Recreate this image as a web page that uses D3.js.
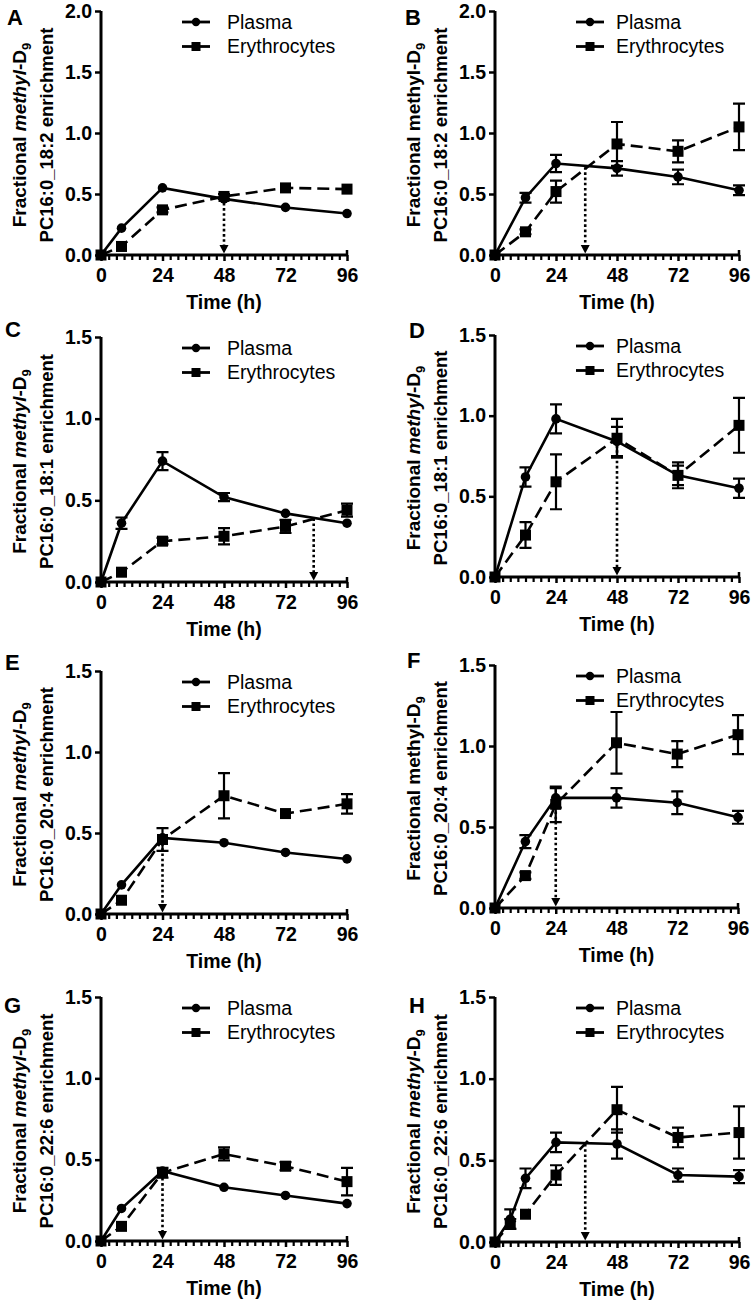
<!DOCTYPE html>
<html>
<head>
<meta charset="utf-8">
<script src="https://cdn.jsdelivr.net/npm/d3@7"></script>
<style>
  html, body { margin: 0; padding: 0; background: #fff; }
  svg { display: block; }
  text { font-family: "Liberation Sans", Arial, sans-serif; fill: #000; }
</style>
</head>
<body>
<svg id="chart" width="755" height="1310"></svg>
<script>
// ---------------- DATA ----------------
const panelLetters = ["A", "B", "C", "D", "E", "F", "G", "H"];
const lipidLabels = ["PC16:0_18:2", "PC16:0_18:2", "PC16:0_18:1", "PC16:0_18:1",
                     "PC16:0_20:4", "PC16:0_20:4", "PC16:0_22:6", "PC16:0_22:6"];
const italicMethyl = [true, false, true, true, true, false, true, true];
const yMaxValues = [2.0, 2.0, 1.5, 1.5, 1.5, 1.5, 1.5, 1.5];
const xTickValues = [0, 24, 48, 72, 96];
const seriesNames = ["Plasma", "Erythrocytes"];

// Panel A
const timesA = [0, 8, 24, 48, 72, 96];
const plasmaA = [0, 0.22, 0.55, 0.46, 0.39, 0.34];
const plasmaErrA = [0, 0.01, 0.01, 0.01, 0.01, 0.01];
const eryA = [0, 0.07, 0.37, 0.48, 0.55, 0.54];
const eryErrA = [0, 0.01, 0.02, 0.02, 0.01, 0.01];
// Panel B
const timesB = [0, 12, 24, 48, 72, 96];
const plasmaB = [0, 0.47, 0.75, 0.71, 0.64, 0.53];
const plasmaErrB = [0, 0.04, 0.07, 0.06, 0.06, 0.04];
const eryB = [0, 0.19, 0.52, 0.91, 0.85, 1.05];
const eryErrB = [0, 0.02, 0.09, 0.18, 0.09, 0.19];
// Panel C
const timesC = [0, 8, 24, 48, 72, 96];
const plasmaC = [0, 0.36, 0.74, 0.52, 0.42, 0.36];
const plasmaErrC = [0, 0.035, 0.055, 0.025, 0.01, 0.01];
const eryC = [0, 0.06, 0.25, 0.28, 0.34, 0.44];
const eryErrC = [0, 0.01, 0.02, 0.05, 0.04, 0.04];
// Panel D
const timesD = [0, 12, 24, 48, 72, 96];
const plasmaD = [0, 0.62, 0.98, 0.84, 0.63, 0.55];
const plasmaErrD = [0, 0.06, 0.09, 0.09, 0.06, 0.06];
const eryD = [0, 0.26, 0.59, 0.86, 0.63, 0.94];
const eryErrD = [0, 0.08, 0.17, 0.12, 0.08, 0.17];
// Panel E
const timesE = [0, 8, 24, 48, 72, 96];
const plasmaE = [0, 0.18, 0.47, 0.44, 0.38, 0.34];
const plasmaErrE = [0, 0.01, 0.01, 0.01, 0.01, 0.01];
const eryE = [0, 0.085, 0.46, 0.73, 0.62, 0.68];
const eryErrE = [0, 0.01, 0.07, 0.14, 0.01, 0.06];
// Panel F
const timesF = [0, 12, 24, 48, 72, 96];
const plasmaF = [0, 0.41, 0.68, 0.68, 0.65, 0.56];
const plasmaErrF = [0, 0.04, 0.06, 0.06, 0.07, 0.04];
const eryF = [0, 0.2, 0.64, 1.02, 0.95, 1.07];
const eryErrF = [0, 0.02, 0.11, 0.19, 0.08, 0.12];
// Panel G
const timesG = [0, 8, 24, 48, 72, 96];
const plasmaG = [0, 0.2, 0.43, 0.33, 0.28, 0.23];
const plasmaErrG = [0, 0.01, 0.01, 0.01, 0.01, 0.01];
const eryG = [0, 0.09, 0.42, 0.535, 0.46, 0.365];
const eryErrG = [0, 0.01, 0.03, 0.04, 0.025, 0.085];
// Panel H
const timesH = [0, 6, 12, 24, 48, 72, 96];
const plasmaH = [0, 0.14, 0.39, 0.61, 0.6, 0.41, 0.4];
const plasmaErrH = [0, 0.06, 0.06, 0.06, 0.09, 0.04, 0.04];
const eryH = [0, 0.11, 0.17, 0.41, 0.81, 0.64, 0.67];
const eryErrH = [0, 0.03, 0.01, 0.06, 0.14, 0.06, 0.16];

// Crossing points marked with dotted arrows
const arrowTimes = [48, 35.5, 83, 48, 24, 24, 24, 35.5];
const arrowStarts = [0.47, 0.72, 0.39, 0.85, 0.47, 0.66, 0.42, 0.60];

const timesAll = [timesA, timesB, timesC, timesD, timesE, timesF, timesG, timesH];
const plasmaAll = [plasmaA, plasmaB, plasmaC, plasmaD, plasmaE, plasmaF, plasmaG, plasmaH];
const plasmaErrAll = [plasmaErrA, plasmaErrB, plasmaErrC, plasmaErrD, plasmaErrE, plasmaErrF, plasmaErrG, plasmaErrH];
const eryAll = [eryA, eryB, eryC, eryD, eryE, eryF, eryG, eryH];
const eryErrAll = [eryErrA, eryErrB, eryErrC, eryErrD, eryErrE, eryErrF, eryErrG, eryErrH];

// ---------------- LAYOUT ----------------
// plot frames: [left, right, top, bottom]
const frames = [
  [101, 347, 11, 255], [495, 739, 11, 255],
  [101, 347, 337, 582], [495, 739, 335, 577],
  [101, 347, 671, 914], [495, 738, 665, 908],
  [101, 347, 997, 1241], [495, 739, 997, 1242]
];
const letterPos = [[7, 25], [405, 25], [5, 337], [409, 338], [5, 670], [407, 668], [4, 1013], [409, 1013]];

const svg = d3.select("#chart");
const FONT = '"Liberation Sans", Arial, sans-serif';

panelLetters.forEach((letter, i) => {
  const [L, R, T, B] = frames[i];
  const x = d3.scaleLinear().domain([0, 96]).range([L, R]);
  const y = d3.scaleLinear().domain([0, yMaxValues[i]]).range([B, T]);
  const g = svg.append("g");

  // Panel letter
  g.append("text").attr("x", letterPos[i][0]).attr("y", letterPos[i][1])
    .attr("font-size", 22).attr("font-weight", "bold").text(letter);

  // Y axis title (two lines, rotated)
  const cy = (T + B) / 2 + 2;
  const t1 = g.append("text")
    .attr("transform", `translate(${L - 75},${cy}) rotate(-90)`)
    .attr("text-anchor", "middle").attr("font-size", 19).attr("font-weight", "bold");
  t1.append("tspan").text("Fractional ");
  t1.append("tspan").attr("font-style", italicMethyl[i] ? "italic" : "normal").text("methyl");
  t1.append("tspan").text("-D");
  t1.append("tspan").attr("font-size", 13).attr("dy", 5).text("9");
  g.append("text")
    .attr("transform", `translate(${L - 48},${cy}) rotate(-90)`)
    .attr("text-anchor", "middle").attr("font-size", 18.5).attr("font-weight", "bold")
    .text(lipidLabels[i] + " enrichment");

  // Y axis
  const yTicks = d3.range(0, yMaxValues[i] + 0.001, 0.5);
  const yAxis = d3.axisLeft(y).tickValues(yTicks).tickFormat(d3.format(".1f"))
    .tickSize(6).tickPadding(3);
  const ya = g.append("g").attr("transform", `translate(${L},0)`).call(yAxis);
  ya.select(".domain").attr("d", `M0,${B}V${T}`).attr("stroke-width", 3).attr("stroke", "#000");
  ya.selectAll(".tick line").attr("stroke-width", 2.5).attr("stroke", "#000");
  ya.selectAll(".tick text").attr("font-size", 19.5).attr("font-weight", "bold")
    .attr("font-family", FONT).attr("fill", "#000");

  // X axis with minor ticks
  const minor = d3.range(0, 97, 3).filter(v => v % 24 !== 0);
  const xMinor = d3.axisBottom(x).tickValues(minor).tickSize(5).tickFormat("");
  const xm = g.append("g").attr("transform", `translate(0,${B})`).call(xMinor);
  xm.select(".domain").remove();
  xm.selectAll(".tick line").attr("stroke-width", 2.2).attr("stroke", "#000");

  const xAxis = d3.axisBottom(x).tickValues(xTickValues).tickSize(6).tickPadding(7);
  const xa = g.append("g").attr("transform", `translate(0,${B})`).call(xAxis);
  xa.select(".domain").attr("d", `M${L},0H${R}`).attr("stroke-width", 3).attr("stroke", "#000");
  xa.selectAll(".tick line").attr("stroke-width", 2.5).attr("stroke", "#000");
  xa.selectAll(".tick text").attr("font-size", 19.5).attr("font-weight", "bold")
    .attr("font-family", FONT).attr("fill", "#000");
  // end tick at 96 extends up a little
  g.append("line").attr("x1", x(96)).attr("x2", x(96)).attr("y1", B - 5).attr("y2", B)
    .attr("stroke", "#000").attr("stroke-width", 2.5);

  // X axis title
  g.append("text").attr("x", (L + R) / 2).attr("y", B + 54)
    .attr("text-anchor", "middle").attr("font-size", 19.5).attr("font-weight", "bold")
    .text("Time (h)");

  // Data
  const times = timesAll[i];
  const pData = times.map((t, k) => ({ t, v: plasmaAll[i][k], e: plasmaErrAll[i][k] }));
  const eData = times.map((t, k) => ({ t, v: eryAll[i][k], e: eryErrAll[i][k] }));
  const line = d3.line().x(d => x(d.t)).y(d => y(d.v));

  // Dotted arrow
  const ax = x(arrowTimes[i]);
  g.append("line").attr("x1", ax).attr("x2", ax)
    .attr("y1", y(arrowStarts[i])).attr("y2", B - 8)
    .attr("stroke", "#000").attr("stroke-width", 2.6).attr("stroke-dasharray", "2.6,2.6");
  g.append("path")
    .attr("d", `M${ax - 4.5},${B - 10}L${ax + 4.5},${B - 10}L${ax},${B - 1.5}Z`)
    .attr("fill", "#000");

  g.append("path").datum(eData).attr("d", line).attr("fill", "none")
    .attr("stroke", "#000").attr("stroke-width", 2.6).attr("stroke-dasharray", "12,6");
  g.append("path").datum(pData).attr("d", line).attr("fill", "none")
    .attr("stroke", "#000").attr("stroke-width", 2.6);

  // Error bars
  [pData, eData].forEach(data => {
    data.filter(d => d.e > 0.015).forEach(d => {
      const cx = x(d.t), y1 = y(d.v + d.e), y2 = y(d.v - d.e);
      g.append("path")
        .attr("d", `M${cx},${y1}V${y2}M${cx - 6},${y1}H${cx + 6}M${cx - 6},${y2}H${cx + 6}`)
        .attr("stroke", "#000").attr("stroke-width", 2.2).attr("fill", "none");
    });
  });

  // Markers
  g.selectAll(null).data(eData).enter().append("rect")
    .attr("x", d => x(d.t) - 5.5).attr("y", d => y(d.v) - 5.5)
    .attr("width", 11).attr("height", 11).attr("fill", "#000");
  g.selectAll(null).data(pData).enter().append("circle")
    .attr("cx", d => x(d.t)).attr("cy", d => y(d.v)).attr("r", 4.8).attr("fill", "#000");

  // Legend
  const legX = L + 81, legTextX = L + (i % 2 === 0 ? 126 : 121);
  seriesNames.forEach((name, k) => {
    const ly = T + 11 + k * 24.5;
    g.append("line").attr("x1", legX).attr("x2", legX + 28).attr("y1", ly).attr("y2", ly)
      .attr("stroke", "#000").attr("stroke-width", 2.8);
    if (k === 0) {
      g.append("circle").attr("cx", legX + 14).attr("cy", ly).attr("r", 4.2).attr("fill", "#000");
    } else {
      g.append("rect").attr("x", legX + 9.5).attr("y", ly - 4.5).attr("width", 9).attr("height", 9).attr("fill", "#000");
    }
    g.append("text").attr("x", legTextX).attr("y", ly).attr("dy", "0.35em")
      .attr("font-size", 19.5).text(name);
  });
});
</script>
</body>
</html>
